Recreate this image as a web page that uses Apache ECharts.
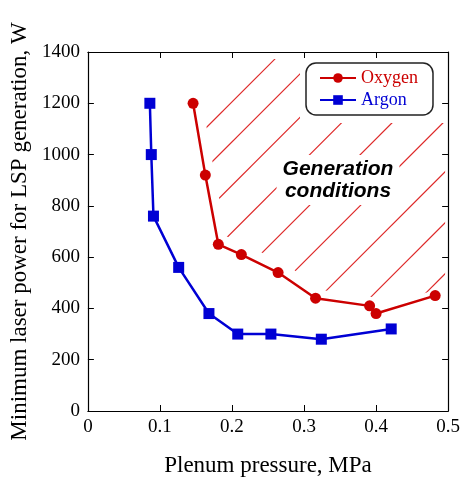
<!DOCTYPE html>
<html>
<head>
<meta charset="utf-8">
<script src="https://cdn.jsdelivr.net/npm/echarts@6/dist/echarts.min.js"></script>
<style>
  html, body { margin: 0; padding: 0; background: #fff; }
  #main { width: 463px; height: 482px; }
</style>
</head>
<body>
<div id="main"></div>
<script>
// values
var oxygenX = [0.146, 0.163, 0.181, 0.213, 0.264, 0.316, 0.391, 0.400, 0.482];
var oxygenY = [1200, 920, 650, 610, 540, 440, 410, 380, 450];
var argonX = [0.086, 0.088, 0.091, 0.126, 0.168, 0.208, 0.254, 0.324, 0.421];
var argonY = [1200, 1000, 760, 560, 380, 300, 300, 280, 320];

var xTicks = [0, 0.1, 0.2, 0.3, 0.4, 0.5];
var yTicks = [0, 200, 400, 600, 800, 1000, 1200, 1400];

var RED = '#cc0000';
var BLUE = '#0000d4';
var HATCH = 'rgb(222,40,40)';
var SERIF = '"Liberation Serif", "Times New Roman", serif';

function pairs(xs, ys) {
    var out = [];
    for (var i = 0; i < xs.length; i++) {
        out.push([xs[i], ys[i]]);
    }
    return out;
}

function axisLine() {
    return { show: true, onZero: false, lineStyle: { color: '#000', width: 1.2 } };
}
function tickIn() {
    return { show: true, inside: true, length: 6, lineStyle: { color: '#000', width: 1 } };
}

var myChart = echarts.init(document.getElementById('main'));

myChart.setOption({
    animation: false,
    grid: { left: 87, right: 13, top: 52, bottom: 67 },
    xAxis: [{
        type: 'value',
        min: xTicks[0], max: xTicks[xTicks.length - 1], interval: 0.1,
        name: 'Plenum pressure, MPa',
        nameLocation: 'middle',
        nameGap: 43,
        nameTextStyle: { fontFamily: SERIF, fontSize: 23, color: '#000' },
        axisLine: axisLine(),
        axisTick: tickIn(),
        axisLabel: { fontFamily: SERIF, fontSize: 19, color: '#000', margin: 7 },
        splitLine: { show: false }
    }, {
        type: 'value', position: 'top',
        min: xTicks[0], max: xTicks[xTicks.length - 1], interval: 0.1,
        axisLine: axisLine(), axisTick: tickIn(),
        axisLabel: { show: false }, splitLine: { show: false }
    }],
    yAxis: [{
        type: 'value',
        min: yTicks[0], max: yTicks[yTicks.length - 1], interval: 200,
        name: 'Minimum laser power for LSP generation, W',
        nameLocation: 'middle',
        nameGap: 46,
        nameTextStyle: { fontFamily: SERIF, fontSize: 23, color: '#000' },
        axisLine: axisLine(),
        axisTick: tickIn(),
        axisLabel: {
            fontFamily: SERIF, fontSize: 19, color: '#000', margin: 8,
            formatter: function (v) { return String(v); }
        },
        splitLine: { show: false }
    }, {
        type: 'value', position: 'right',
        min: yTicks[0], max: yTicks[yTicks.length - 1], interval: 200,
        axisLine: axisLine(), axisTick: tickIn(),
        axisLabel: { show: false }, splitLine: { show: false }
    }],
    legend: {
        orient: 'vertical',
        left: 306, top: 63,
        padding: [6, 15, 6, 13],
        itemGap: 4,
        itemWidth: 36,
        itemHeight: 12,
        backgroundColor: '#fff',
        borderColor: '#222',
        borderWidth: 1.5,
        borderRadius: 10,
        textStyle: { fontFamily: SERIF, fontSize: 18 },
        data: [
            { name: 'Oxygen', textStyle: { color: RED } },
            { name: 'Argon', textStyle: { color: BLUE } }
        ]
    },
    graphic: [{
        type: 'text',
        x: 338, y: 155,
        z: 10,
        style: {
            text: 'Generation\nconditions',
            font: 'italic bold 21px "Liberation Sans", Arial, sans-serif',
            lineHeight: 22,
            textAlign: 'center',
            textVerticalAlign: 'top',
            fill: '#000',
            backgroundColor: '#fff',
            padding: [3, 6]
        }
    }],
    series: [{
        // hatched region above the oxygen curve
        type: 'custom',
        silent: true,
        clip: true,
        z: 1,
        itemStyle: { color: HATCH },
        data: [0],
        renderItem: function (params, api) {
            var cs = params.coordSys;
            var off = 8, inset = 7;
            var top = cs.y + inset, right = cs.x + cs.width - inset;
            var pts = [];
            var first = api.coord([oxygenX[0], oxygenY[0]]);
            pts.push([first[0] + off + 30, top]);
            for (var i = 0; i < oxygenX.length; i++) {
                var p = api.coord([oxygenX[i], oxygenY[i]]);
                pts.push([p[0] + off, p[1] - off]);
            }
            var last = pts[pts.length - 1];
            // keep clear of the legend box
            pts.push([right + 4, last[1] - 14]);
            pts.push([right + 4, 123]);
            pts.push([300, 123]);
            pts.push([300, top]);

            // hatch spacing widens a little towards the lower right
            var bottom = cs.y + cs.height;
            var lines = [];
            var c = cs.x + cs.y + 194;
            for (var k = 0; c < cs.x + cs.width + bottom; k++) {
                lines.push({
                    type: 'line',
                    shape: { x1: c - bottom, y1: bottom, x2: c - cs.y, y2: cs.y },
                    style: { stroke: HATCH, fill: null, lineWidth: 1.1, opacity: 1 }
                });
                c += Math.min(40 + 3.5 * k, 51);
            }
            return {
                type: 'group',
                children: lines,
                clipPath: { type: 'polygon', shape: { points: pts } }
            };
        }
    }, {
        name: 'Oxygen',
        type: 'line',
        data: pairs(oxygenX, oxygenY),
        symbol: 'circle',
        symbolSize: 11,
        lineStyle: { color: RED, width: 2.5 },
        itemStyle: { color: RED },
        z: 3
    }, {
        name: 'Argon',
        type: 'line',
        data: pairs(argonX, argonY),
        symbol: 'rect',
        symbolSize: 11,
        lineStyle: { color: BLUE, width: 2.5 },
        itemStyle: { color: BLUE },
        z: 3
    }]
});
</script>
</body>
</html>
